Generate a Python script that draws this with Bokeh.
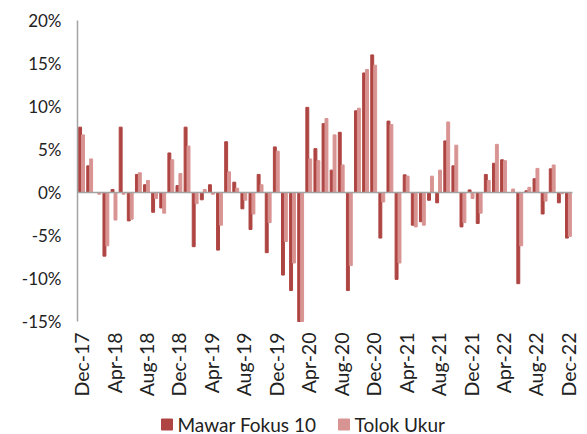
import numpy as np
from bokeh.plotting import figure
from bokeh.core.properties import value
from bokeh.models import (ColumnDataSource, FixedTicker, Range1d)
from bokeh.embed import file_html
from bokeh.resources import INLINE

months = ["Dec-17","Jan-18","Feb-18","Mar-18","Apr-18","May-18","Jun-18","Jul-18","Aug-18","Sep-18","Oct-18","Nov-18",
          "Dec-18","Jan-19","Feb-19","Mar-19","Apr-19","May-19","Jun-19","Jul-19","Aug-19","Sep-19","Oct-19","Nov-19",
          "Dec-19","Jan-20","Feb-20","Mar-20","Apr-20","May-20","Jun-20","Jul-20","Aug-20","Sep-20","Oct-20","Nov-20",
          "Dec-20","Jan-21","Feb-21","Mar-21","Apr-21","May-21","Jun-21","Jul-21","Aug-21","Sep-21","Oct-21","Nov-21",
          "Dec-21","Jan-22","Feb-22","Mar-22","Apr-22","May-22","Jun-22","Jul-22","Aug-22","Sep-22","Oct-22","Nov-22",
          "Dec-22"]

mawar = [7.6, 3.1, 0.0, -7.4, 0.35, 7.6, -3.3, 2.1, 0.9, -2.3, -1.8, 4.6,
         0.8, 7.6, -6.3, -0.85, 0.9, -6.7, 5.9, 1.2, -1.9, -4.3, 2.1, -7.0,
         5.3, -9.6, -11.4, -16.5, 9.9, 5.1, 8.0, 2.6, 7.0, -11.4, 9.5, 13.9,
         16.0, -5.3, 8.3, -10.1, 2.05, -3.8, -3.4, -0.9, -1.2, 6.0, 3.1, -4.0,
         0.3, -3.6, 2.1, 3.4, 3.8, 0.0, -10.6, 0.2, 1.6, -2.5, 2.75, -1.2,
         -5.3]

tolok = [6.7, 3.9, -0.2, -6.2, -3.2, -0.2, -3.1, 2.3, 1.4, -0.7, -2.4, 3.8,
         2.2, 5.4, -1.3, 0.35, -0.2, -3.8, 2.4, 0.5, -0.9, -2.5, 0.9, -3.5,
         4.8, -5.7, -8.2, -16.0, 3.9, 3.7, 8.6, 6.7, 3.2, -8.5, 9.8, 14.3,
         14.8, -1.1, 7.9, -8.2, 1.9, -4.0, -3.8, 1.9, 2.6, 8.2, 5.5, -3.5,
         -0.7, -2.4, 1.4, 5.6, 3.7, 0.4, -6.2, 0.6, 2.8, -1.0, 3.2, -0.15,
         -5.1]

series_names = ["Mawar Fokus 10", "Tolok Ukur"]
y_ticks = [-15, -10, -5, 0, 5, 10, 15, 20]

DARK = "#AE4542"
LIGHT = "#D89492"
FONT = "Lato"
TXT = "#222222"
AXIS_GREY = "#A3A3A3"

Y_MIN, Y_MAX = y_ticks[0], y_ticks[-1]
N = len(months)

# The frame covers the whole canvas; the plotting area (categories x values)
# sits at px 77..572 horizontally and 20..321 vertically inside it.
FW, FH = 582, 432
PL, PR, PT, PB = 77, 572, 20, 321
x_per_px = N / (PR - PL)
y_per_px = (Y_MAX - Y_MIN) / (PB - PT)

def px_to_x(px):
    return -0.5 + (px - PL) * x_per_px

def px_to_y(py):
    return Y_MAX - (py - PT) * y_per_px

idx = np.arange(N)
src = ColumnDataSource(dict(x1=idx - 0.18, x2=idx + 0.18,
                            m=np.maximum(mawar, Y_MIN), t=np.maximum(tolok, Y_MIN)))

p = figure(frame_width=FW, frame_height=FH, output_backend="svg", toolbar_location=None,
           x_range=Range1d(px_to_x(0), px_to_x(FW)), y_range=Range1d(px_to_y(FH), px_to_y(0)),
           min_border=0, min_border_left=0, min_border_right=0, min_border_top=0, min_border_bottom=0)
p.outline_line_color = None
p.grid.visible = False

p.vbar(x="x1", top="m", bottom=0, width=0.36, source=src, color=DARK)
p.vbar(x="x2", top="t", bottom=0, width=0.36, source=src, color=LIGHT)

# zero line across the category span
p.segment(x0=[-0.5], x1=[N - 0.5], y0=[0], y1=[0], line_color=AXIS_GREY, line_width=1.5)

ya = p.yaxis[0]
ya.ticker = FixedTicker(ticks=y_ticks)
ya.fixed_location = -0.5
ya.bounds = (Y_MIN, Y_MAX)
ya.major_label_overrides = {v: f"{v}%" for v in y_ticks}
ya.axis_line_color = AXIS_GREY
ya.axis_line_width = 1.5
ya.major_tick_line_color = None
ya.minor_tick_line_color = None
ya.major_label_text_font = FONT
ya.major_label_text_font_size = "17px"
ya.major_label_text_color = TXT
ya.major_label_standoff = 10

xa = p.xaxis[0]
tick_pos = list(range(0, N, 4))
xa.ticker = FixedTicker(ticks=tick_pos)
xa.fixed_location = Y_MIN
xa.major_label_overrides = {i: months[i] for i in tick_pos}
xa.axis_line_color = None
xa.major_tick_line_color = None
xa.minor_tick_line_color = None
xa.major_label_orientation = np.pi / 2
xa.major_label_text_font = FONT
xa.major_label_text_font_size = "19.5px"
xa.major_label_text_color = TXT
xa.major_label_standoff = 5

# legend drawn with glyphs inside the frame
sw_px = [161, 338]
lf_src = ColumnDataSource(dict(
    left=[px_to_x(x) for x in sw_px], right=[px_to_x(x + 11) for x in sw_px],
    top=[px_to_y(418.5)] * 2, bottom=[px_to_y(429.5)] * 2,
    tx=[px_to_x(x + 16) for x in sw_px], ty=[px_to_y(423.5)] * 2,
    name=series_names, color=[DARK, LIGHT]))
p.quad(left="left", right="right", top="top", bottom="bottom", color="color", source=lf_src)
p.text(x="tx", y="ty", text="name", source=lf_src,
       text_font=value(FONT), text_font_size=value("19px"), text_color=TXT,
       text_baseline="middle", text_align="left")

open("out.html", "w").write(file_html(p, INLINE))
